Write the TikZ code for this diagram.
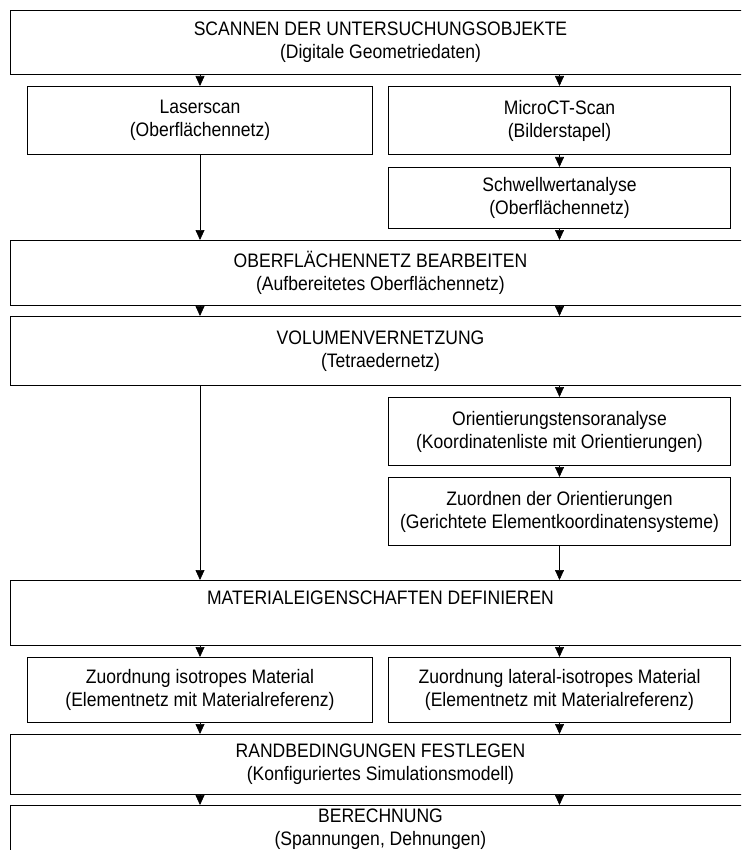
\documentclass[tikz,border=0pt]{standalone}
\usepackage{fontspec}
\setmainfont[FakeStretch=0.9]{Liberation Sans}
\usetikzlibrary{arrows.meta}
\begin{document}
\begin{tikzpicture}[x=1pt,y=-1pt,
  box/.style={draw, line width=1pt, inner sep=0pt, align=center, anchor=north west, font=\fontsize{19.5}{23}\selectfont},
  arr/.style={-{Triangle[width=9pt,length=10pt]}, line width=0.7pt}]
\useasboundingbox (0,0) rectangle (741,850);
\clip (0,0) rectangle (741,850);
\fill[white] (0,0) rectangle (741,850);
\node[box, minimum width=740pt, minimum height=64pt] (scan) at (10,10) {SCANNEN DER UNTERSUCHUNGSOBJEKTE\\(Digitale Geometriedaten)};
\node[box, minimum width=345pt, minimum height=68pt] (laser) at (27,86) {Laserscan\\(Oberflächennetz)};
\node[box, minimum width=342pt, minimum height=68pt] (micro) at (388,86) {MicroCT-Scan\\(Bilderstapel)};
\node[box, minimum width=342pt, minimum height=61pt] (schw) at (388,167) {Schwellwertanalyse\\(Oberflächennetz)};
\node[box, minimum width=740pt, minimum height=65pt] (ober) at (10,240) {OBERFLÄCHENNETZ BEARBEITEN\\(Aufbereitetes Oberflächennetz)};
\node[box, minimum width=740pt, minimum height=69pt] (vol) at (10,316) {VOLUMENVERNETZUNG\\(Tetraedernetz)};
\node[box, minimum width=342pt, minimum height=68pt] (orient) at (388,397) {Orientierungstensoranalyse\\(Koordinatenliste mit Orientierungen)};
\node[box, minimum width=342pt, minimum height=68pt] (zuord) at (388,477) {Zuordnen der Orientierungen\\(Gerichtete Elementkoordinatensysteme)};
\node[box, minimum width=740pt, minimum height=65pt] (mat) at (10,580) {MATERIALEIGENSCHAFTEN DEFINIEREN\\\strut};
\node[box, minimum width=345pt, minimum height=65pt] (iso) at (27,657) {Zuordnung isotropes Material\\(Elementnetz mit Materialreferenz)};
\node[box, minimum width=342pt, minimum height=65pt] (lat) at (388,657) {Zuordnung lateral-isotropes Material\\(Elementnetz mit Materialreferenz)};
\node[box, minimum width=740pt, minimum height=60pt] (rand) at (10,734) {RANDBEDINGUNGEN FESTLEGEN\\(Konfiguriertes Simulationsmodell)};
\node[box, minimum width=740pt, minimum height=48pt] (ber) at (10,805) {BERECHNUNG\\(Spannungen, Dehnungen)};
\draw[arr] (scan.south -| laser.north) -- (laser.north);
\draw[arr] (scan.south -| micro.north) -- (micro.north);
\draw[arr] (micro.south) -- (schw.north);
\draw[arr] (laser.south) -- (laser.south |- ober.north);
\draw[arr] (schw.south) -- (schw.south |- ober.north);
\draw[arr] (ober.south -| laser.south) -- (vol.north -| laser.south);
\draw[arr] (ober.south -| micro.south) -- (vol.north -| micro.south);
\draw[arr] (vol.south -| micro.south) -- (orient.north);
\draw[arr] (vol.south -| laser.south) -- (mat.north -| laser.south);
\draw[arr] (orient.south) -- (zuord.north);
\draw[arr] (zuord.south) -- (zuord.south |- mat.north);
\draw[arr] (mat.south -| iso.north) -- (iso.north);
\draw[arr] (mat.south -| lat.north) -- (lat.north);
\draw[arr] (iso.south) -- (iso.south |- rand.north);
\draw[arr] (lat.south) -- (lat.south |- rand.north);
\draw[arr] (rand.south -| iso.south) -- (ber.north -| iso.south);
\draw[arr] (rand.south -| lat.south) -- (ber.north -| lat.south);
\end{tikzpicture}
\end{document}
